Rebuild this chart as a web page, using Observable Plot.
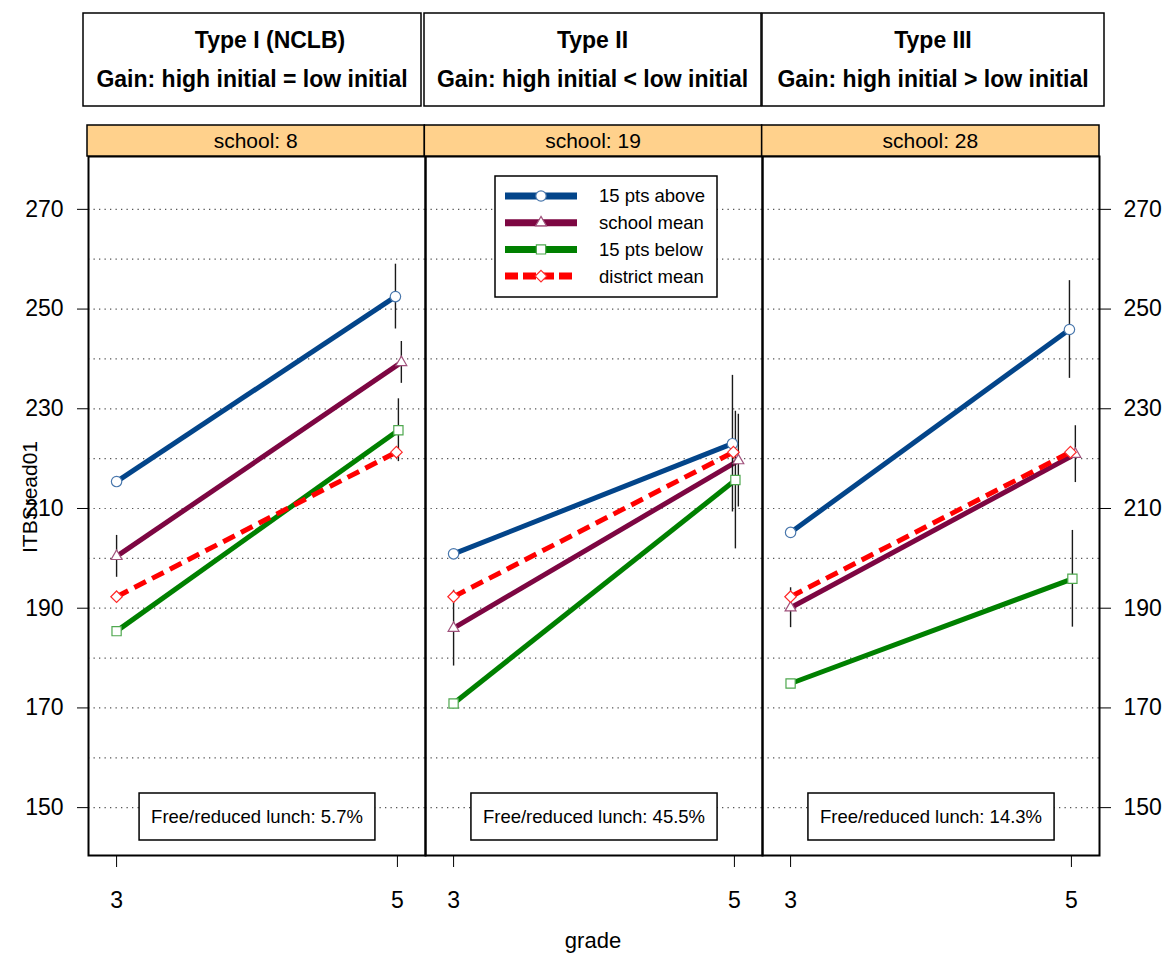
<!DOCTYPE html>
<html>
<head>
<meta charset="utf-8">
<script src="https://cdn.jsdelivr.net/npm/d3@7"></script>
<script src="https://cdn.jsdelivr.net/npm/@observablehq/plot@0.6"></script>
<style>
  body { margin: 0; background: #fff; }
  #chart { width: 1169px; height: 958px; }
</style>
</head>
<body>
<div id="chart"></div>
<script>
// ---------------- data ----------------
const schools = [8, 19, 28];
const typeTitles = ["Type I (NCLB)", "Type II", "Type III"];
const typeGains = ["Gain: high initial = low initial", "Gain: high initial < low initial", "Gain: high initial > low initial"];
const seriesNames = ["15 pts above", "school mean", "15 pts below", "district mean"];
const grades = [3, 5];

// ITBSread01 predicted values per school (8, 19, 28)
const above3 = [215.4, 200.9, 205.2];
const above5 = [252.5, 223.0, 245.9];
const mean3 = [200.4, 186.0, 190.1];
const mean5 = [239.3, 219.6, 220.9];
const below3 = [185.4, 170.9, 174.9];
const below5 = [225.7, 215.7, 195.9];
const district3 = [192.3, 192.3, 192.3];
const district5 = [221.3, 221.3, 221.3];

// half-widths of the error bars
const errMean3 = [4.2, 7.6, 4.0];
const errAbove5 = [6.5, 13.7, 9.8];
const errMean5 = [4.2, 9.3, 5.7];
const errBelow5 = [6.3, 13.8, 9.7];

// small horizontal jitter of grade-5 points, per series
const jitter5 = [-0.014, 0.028, 0.007, -0.007];

const lunchPct = ["5.7", "45.5", "14.3"];

const yTicks = [150, 170, 190, 210, 230, 250, 270];
const yGrid = [150, 160, 170, 180, 190, 200, 210, 220, 230, 240, 250, 260, 270];
const xTicks = [3, 5];

// ---------------- styles ----------------
const lineColors = ["#03458a", "#7d0642", "#008000", "#ff0000"];
const markerColors = ["#4a78ad", "#a0527c", "#4fa84f", "#ff2a2a"];
const symbols = ["circle", "triangle2", "square", "diamond2"];
const dashes = [null, null, null, "13,7"];
const FONT = "'Liberation Sans', Arial, Helvetica, sans-serif";

// ---------------- tables ----------------
const seriesValues = [[above3, above5], [mean3, mean5], [below3, below5], [district3, district5]];
const rows = [];
seriesNames.forEach((s, k) => {
  schools.forEach((sc, i) => {
    rows.push({series: s, school: sc, grade: grades[0], value: seriesValues[k][0][i]});
    rows.push({series: s, school: sc, grade: grades[1] + jitter5[k], value: seriesValues[k][1][i]});
  });
});

const errs = [];
schools.forEach((sc, i) => {
  errs.push({school: sc, grade: grades[0], value: mean3[i], e: errMean3[i]});
  errs.push({school: sc, grade: grades[1] + jitter5[0], value: above5[i], e: errAbove5[i]});
  errs.push({school: sc, grade: grades[1] + jitter5[1], value: mean5[i], e: errMean5[i]});
  errs.push({school: sc, grade: grades[1] + jitter5[2], value: below5[i], e: errBelow5[i]});
});

const lunchRows = schools.map((sc, i) => ({school: sc, pct: lunchPct[i]}));

// ---------------- plot ----------------
const lineMarks = seriesNames.map((s, k) =>
  Plot.line(rows.filter(d => d.series === s), {
    fx: "school", x: "grade", y: "value",
    stroke: lineColors[k], strokeWidth: 5,
    strokeDasharray: dashes[k] || undefined, strokeLinecap: "butt"
  })
);
const dotMarks = seriesNames.map((s, k) =>
  Plot.dot(rows.filter(d => d.series === s), {
    fx: "school", x: "grade", y: "value",
    symbol: symbols[k], r: 5.2, fill: "white",
    stroke: markerColors[k], strokeWidth: 1.2
  })
);

const plot = Plot.plot({
  width: 1169,
  height: 958,
  marginTop: 156,
  marginBottom: 103,
  marginLeft: 87,
  marginRight: 70,
  style: {fontFamily: FONT, fontSize: "21px", color: "black", background: "white", overflow: "visible"},
  fx: {domain: schools, padding: 0, axis: null},
  x: {domain: [2.8, 5.2]},
  y: {domain: [140.4, 280.6]},
  marks: [
    Plot.gridY(yGrid, {stroke: "#555", strokeOpacity: 1, strokeWidth: 1.2, strokeDasharray: "1.3,4.2"}),
    ...lineMarks.slice(0, 3),
    Plot.ruleX(errs, {fx: "school", x: "grade", y1: d => d.value - d.e, y2: d => d.value + d.e, stroke: "#1a1a1a", strokeWidth: 1.4}),
    lineMarks[3],
    ...dotMarks,
    Plot.text(lunchRows, {fx: "school", text: d => `Free/reduced lunch: ${d.pct}%`, frameAnchor: "bottom", dy: -32.5, fontSize: 18.5, fill: "black", className: "lunch"}),
    Plot.frame({stroke: "black", strokeWidth: 2}),
    Plot.axisY({anchor: "left", ticks: yTicks, tickSize: 11, tickPadding: 14, fontSize: 23, label: null}),
    Plot.axisY({anchor: "right", ticks: yTicks, tickSize: 11, tickPadding: 13, fontSize: 23, label: null}),
    Plot.axisX({ticks: xTicks, tickFormat: d => String(d), tickSize: 12, tickPadding: 24, fontSize: 23, label: null})
  ]
});

document.getElementById("chart").appendChild(plot);

// ---------------- decorations ----------------
const svg = d3.select(plot);

// boxes around the lunch labels
svg.selectAll(".lunch text").each(function () {
  const b = this.getBBox();
  const padX = 12, padY = 13;
  d3.select(this.parentNode).insert("rect", () => this)
    .attr("transform", this.getAttribute("transform"))
    .attr("x", b.x - padX).attr("y", b.y - padY)
    .attr("width", b.width + 2 * padX).attr("height", b.height + 2 * padY)
    .attr("fill", "white").attr("stroke", "black").attr("stroke-width", 1.5);
});

const bw = (1169 - 87 - 70) / schools.length;

// header boxes with the type titles
const headerBoxes = [[83, 421], [424, 761], [762, 1104]];
const titleShift = [18, 0, 0];
const hdr = svg.append("g").attr("font-family", FONT).attr("font-weight", "bold").attr("font-size", 23).attr("text-anchor", "middle");
headerBoxes.forEach(([a, b], i) => {
  hdr.append("rect").attr("x", a).attr("y", 13).attr("width", b - a).attr("height", 93)
    .attr("fill", "white").attr("stroke", "black").attr("stroke-width", 1.5);
  hdr.append("text").attr("x", (a + b) / 2 + titleShift[i]).attr("y", 48).text(typeTitles[i]);
  hdr.append("text").attr("x", (a + b) / 2).attr("y", 87).text(typeGains[i]);
});

// strips
const strip = svg.append("g").attr("font-family", FONT).attr("font-size", 21).attr("text-anchor", "middle");
schools.forEach((sc, i) => {
  const x0 = 87 + i * bw;
  strip.append("rect").attr("x", x0).attr("y", 125).attr("width", bw).attr("height", 31)
    .attr("fill", "#ffd18c").attr("stroke", "black").attr("stroke-width", 1.5);
  strip.append("text").attr("x", x0 + bw / 2).attr("y", 148).text(`school: ${sc}`);
});

// legend inside panel 2
const lg = svg.append("g").attr("font-family", FONT).attr("font-size", 18.5).attr("text-anchor", "start");
lg.append("rect").attr("x", 495).attr("y", 176).attr("width", 222).attr("height", 121)
  .attr("fill", "white").attr("stroke", "black").attr("stroke-width", 1.5);
const d3sym = {circle: d3.symbolCircle, triangle2: d3.symbolTriangle2, square: d3.symbolSquare, diamond2: d3.symbolDiamond2};
seriesNames.forEach((s, k) => {
  const yy = 196 + k * 26.7;
  lg.append("line").attr("x1", 505).attr("x2", 577).attr("y1", yy).attr("y2", yy)
    .attr("stroke", lineColors[k]).attr("stroke-width", 7)
    .attr("stroke-dasharray", k === 3 ? "13,5" : null);
  lg.append("path").attr("transform", `translate(541,${yy})`)
    .attr("d", d3.symbol(d3sym[symbols[k]], Math.PI * 5.2 * 5.2)())
    .attr("fill", "white").attr("stroke", markerColors[k]).attr("stroke-width", 1.2);
  lg.append("text").attr("x", 599).attr("y", yy).attr("dy", "0.35em").text(s);
});

// axis titles
svg.append("text").attr("font-family", FONT).attr("font-size", 22).attr("text-anchor", "middle")
  .attr("x", 593).attr("y", 948).text("grade");
svg.append("text").attr("font-family", FONT).attr("font-size", 21).attr("text-anchor", "middle")
  .attr("transform", "translate(37,497) rotate(-90)").text("ITBSread01");
</script>
</body>
</html>
